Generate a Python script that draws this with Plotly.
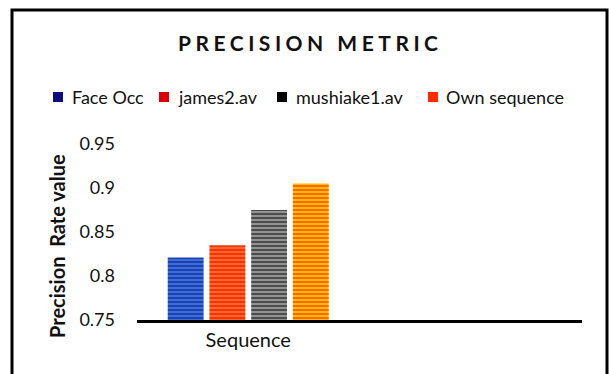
import plotly.graph_objects as go

categories = ["Sequence"]
series_names = ["Face Occ", "james2.av", "mushiake1.av", "Own sequence"]
series_values = [[0.821], [0.835], [0.875], [0.905]]
y_ticks = [0.75, 0.8, 0.85, 0.9, 0.95]
y_tick_labels = ["0.75", "0.8", "0.85", "0.9", "0.95"]

fg_colors = ["#000c88", "#e40000", "#000000", "#ff1000"]
bg_colors = ["#3f74dc", "#ff6a24", "#9a9a9a", "#ffc20a"]
legend_colors = ["#0c0c80", "#dd0000", "#000000", "#ff2a00"]

W, H = 609, 374
L, R, T, B = 137, 27, 144, 54
pw, ph = W - L - R, H - T - B

def px(x):
    return (x - L) / pw

def py(y):
    return (H - B - y) / ph

fig = go.Figure()
for name, vals, fg, bg in zip(series_names, series_values, fg_colors, bg_colors):
    fig.add_trace(go.Bar(
        x=[0], y=vals, name=name, base=0,
        marker=dict(color=bg, line=dict(width=0),
                    pattern=dict(shape="-", fgcolor=fg, bgcolor=bg, size=4, solidity=0.55, fillmode="overlay")),
    ))

# manual legend (positions in pixels)
leg_marker_x = [53, 159, 277, 428]
leg_text_x = [70, 176, 294, 444]
leg_y = 97
shapes = [dict(type="rect", xref="paper", yref="paper",
               x0=px(12), x1=px(607), y0=py(390), y1=py(10),
               line=dict(color="black", width=3), fillcolor="rgba(0,0,0,0)", layer="below")]
annotations = [
    dict(text="<b>PRECISION METRIC</b>", xref="paper", yref="paper", x=px(310), y=py(43),
         xanchor="center", yanchor="middle", showarrow=False,
         font=dict(size=21, family="Lato", color="#111111")),
    dict(text="<b>Precision  Rate value</b>", xref="paper", yref="paper", x=px(57), y=py(246),
         xanchor="center", yanchor="middle", showarrow=False, textangle=-90,
         font=dict(size=20, family="Lato", color="#111111")),
]
for name, c, mx, tx in zip(series_names, legend_colors, leg_marker_x, leg_text_x):
    shapes.append(dict(type="rect", xref="paper", yref="paper",
                       x0=px(mx), x1=px(mx + 10), y0=py(leg_y + 5), y1=py(leg_y - 5),
                       line=dict(width=0), fillcolor=c))
    annotations.append(dict(text=name, xref="paper", yref="paper", x=px(tx), y=py(leg_y),
                            xanchor="left", yanchor="middle", showarrow=False,
                            font=dict(size=18, family="Lato", color="#111111")))

fig.update_layout(
    width=W, height=H,
    margin=dict(l=L, r=R, t=T, b=B, autoexpand=False),
    paper_bgcolor="white", plot_bgcolor="white",
    barmode="group", bargap=0.25, bargroupgap=0.14,
    font=dict(family="Lato", color="#111111"),
    showlegend=False,
    xaxis=dict(range=[-0.5, 1.5], tickvals=[0], ticktext=categories, showgrid=False, zeroline=False,
               showline=True, linecolor="black", linewidth=3, ticks="", automargin=False,
               tickfont=dict(size=20, family="Lato", color="#111111")),
    yaxis=dict(range=[0.75, 0.95], tickvals=y_ticks, ticktext=y_tick_labels, showgrid=False,
               zeroline=False, showline=False, ticks="", ticklabelstandoff=21, automargin=False,
               tickfont=dict(size=18, family="Lato", color="#111111")),
    shapes=shapes,
    annotations=annotations,
)

post = """
document.body.style.margin = '0';
document.body.style.padding = '0';
var t = document.querySelectorAll('.annotation-text');
if (t.length) { t[0].style.letterSpacing = '4.5px'; }
"""
fig.write_html("out.html", post_script=post, config={"displayModeBar": False})
